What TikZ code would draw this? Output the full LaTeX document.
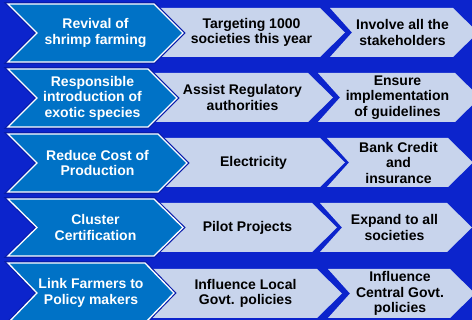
\documentclass[tikz,border=0pt]{standalone}
\usepackage{fontspec}
\setmainfont{Liberation Sans}
\definecolor{bgblue}{RGB}{12,36,204}
\definecolor{chevblue}{RGB}{0,114,198}
\definecolor{lightchev}{RGB}{200,212,236}
\definecolor{edgeblue}{RGB}{8,28,170}
\tikzset{
  bluechev/.style={fill=chevblue},
  lightbox/.style={fill=lightchev},
  btext/.style={text=white,font=\bfseries\fontsize{14}{15.5}\selectfont,align=center,inner sep=0pt},
  ltext/.style={text=black,font=\bfseries\fontsize{14}{15.5}\selectfont,align=center,inner sep=0pt}
}
\begin{document}
\begin{tikzpicture}[x=1pt,y=-1pt]
\useasboundingbox (0,0) rectangle (472,320);
\clip (0,0) rectangle (472,320);
\fill[bgblue] (0,0) rectangle (472,320);
\foreach \T/\B/\C/\Tb/\Bb/\Cb/\Lc/\Cc/\i/\ta/\tb/\tc in {
  4/62/154/8/57/320/330/453/1/{Revival of\\shrimp farming}/{Targeting 1000\\societies this year}/{Involve all the\\stakeholders},
  69/127/148/73/122/308/318/455/2/{Responsible\\introduction of\\exotic species}/{Assist Regulatory\\authorities}/{Ensure\\implementation\\of guidelines},
  134/192/158/138/187/320/327/448/3/{Reduce Cost of\\Production}/{Electricity}/{Bank Credit\\and\\insurance},
  199/256/154/203/252/312/320/447/4/{Cluster\\Certification}/{Pilot Projects}/{Expand to all\\societies},
  263/323/145/269/318/317/328/450/5/{Link Farmers to\\Policy makers}/{Influence Local\\Govt. policies}/{Influence\\Central Govt.\\policies}}
{
  \pgfmathsetmacro{\M}{(\T+\B)/2}
  \pgfmathsetmacro{\Mb}{(\Tb+\Bb)/2}
  % middle light chevron
  \fill[lightbox] (\C,\Tb) -- (\Cb,\Tb) -- ({\Cb+25},\Mb) -- (\Cb,\Bb) -- (\C,\Bb) -- cycle;
  % right light chevron
  \fill[lightbox] (\Lc,\Tb) -- (\Cc,\Tb) -- ({\Cc+25},\Mb) -- (\Cc,\Bb) -- (\Lc,\Bb) -- ({\Lc+22},\Mb) -- cycle;
  % blue chevron
  \draw[edgeblue,line width=3.6pt,line join=miter] (8,\T) -- (\C,\T) -- ({\C+29},\M) -- (\C,\B) -- (8,\B) -- (37,\M) -- cycle;
  \draw[white,line width=1.3pt,bluechev,line join=miter] (8,\T) -- (\C,\T) -- ({\C+29},\M) -- (\C,\B) -- (8,\B) -- (37,\M) -- cycle;
  \node[btext] (b\i) at ({(37+\C)/2},\M) {\ta};
  \node[ltext] (m\i) at ({(\C+29+\Cb)/2},\Mb) {\tb};
  \node[ltext] (r\i) at ({(\Lc+22+\Cc)/2},\Mb) {\tc};
}
\end{tikzpicture}
\end{document}
